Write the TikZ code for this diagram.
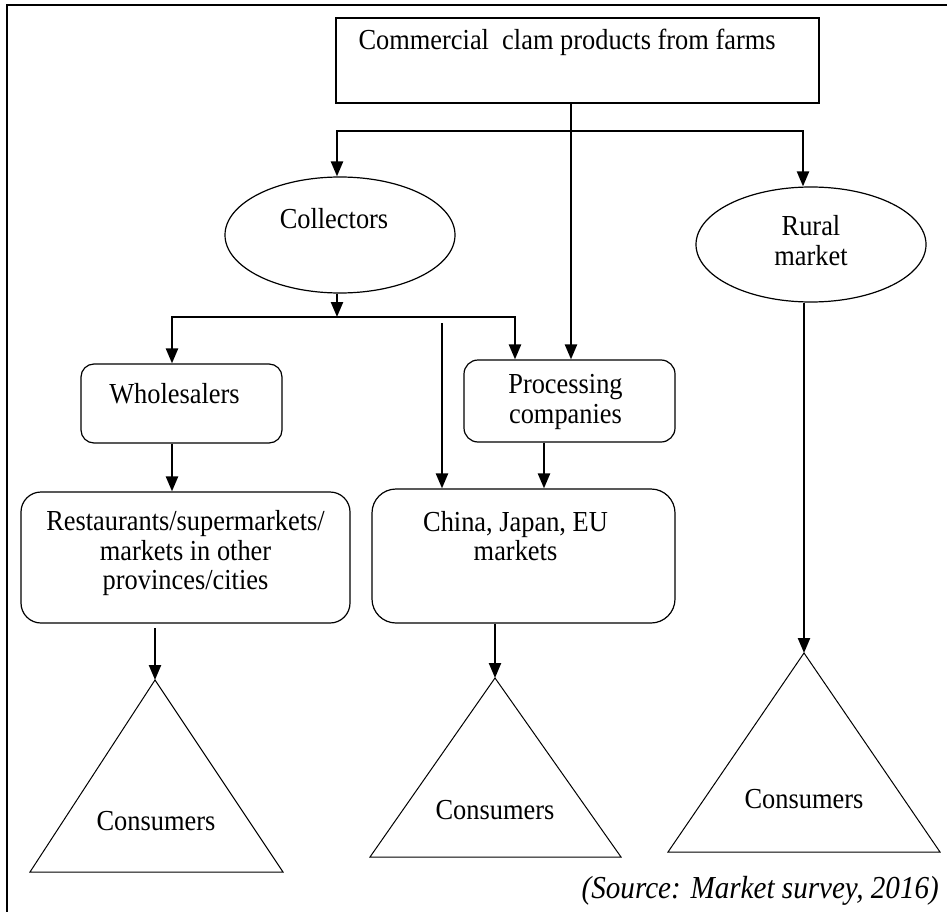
\documentclass[tikz,border=0pt]{standalone}
\usepackage{fontspec}
\setmainfont{Liberation Serif}[FakeStretch=0.91]
\usetikzlibrary{arrows.meta,shapes.geometric,calc}
\begin{document}
\begin{tikzpicture}[x=1pt,y=-1pt,
  every node/.style={font=\fontsize{29}{29.5}\selectfont},
  shape line/.style={draw, line width=1.2pt, inner sep=0pt},
  plainbox/.style={shape line, rectangle},
  roundbox/.style={shape line, rectangle, rounded corners=#1},
  oval/.style={shape line, ellipse},
  txt/.style={align=center, inner sep=0pt},
  link/.style={line width=2.3pt},
  arr/.style={link, -{Triangle[length=15pt,width=12pt]}},
  cone/.style={draw, line width=1pt, line join=miter},
  frameline/.style={line width=2.5pt}
]
\useasboundingbox (0,0) rectangle (947,912);

% frame
\draw[frameline] (7,912) -- (7,5) -- (947,5);

% boxes and ovals
\node[plainbox, minimum width=483pt, minimum height=85pt] (farm) at (577.5,60.5) {};
\node[anchor=west, inner sep=0pt] (farmtxt) at ($(farm.north west)+(23,25)$) {Commercial\ \ clam products from farms};

\node[oval, minimum width=230pt, minimum height=116pt,
      label={[txt, yshift=16pt, xshift=-6pt]center:Collectors}] (coll) at (340,235) {};
\node[oval, minimum width=230pt, minimum height=115pt,
      label={[txt, yshift=4pt]center:{Rural\\market}}] (rural) at (811,244.5) {};

\node[roundbox=13pt, minimum width=201pt, minimum height=79pt,
      label={[txt, yshift=10pt, xshift=-7pt]center:Wholesalers}] (whole) at (181.5,403.5) {};
\node[roundbox=14pt, minimum width=211pt, minimum height=82pt,
      label={[txt, yshift=-1pt, xshift=-4pt]center:{Processing\\companies}}] (proc) at (569.5,401) {};

\node[roundbox=20pt, minimum width=329pt, minimum height=131pt,
      label={[txt, yshift=4pt]center:{Restaurants/supermarkets/\\markets in other\\provinces/cities}}] (rest) at (185.5,557.5) {};
\node[roundbox=24pt, minimum width=303pt, minimum height=134pt,
      label={[txt, yshift=20pt, xshift=-8pt]center:{China, Japan, EU\\markets}}] (china) at (523.5,556) {};

% consumer triangles
\coordinate (t1) at (155,680);
\coordinate (t1l) at (30,872);
\coordinate (t1r) at (283,872);
\draw[cone] (t1) -- (t1r) -- (t1l) -- cycle;
\node (c1) at (156,821) {Consumers};

\coordinate (t2) at (495,678);
\coordinate (t2l) at (370,857);
\coordinate (t2r) at (621,857);
\draw[cone] (t2) -- (t2r) -- (t2l) -- cycle;
\node (c2) at (495,810) {Consumers};

\coordinate (t3) at (804,653);
\coordinate (t3l) at (668,852);
\coordinate (t3r) at (940,852);
\draw[cone] (t3) -- (t3r) -- (t3l) -- cycle;
\node (c3) at (804,799) {Consumers};

% distribution buses
\coordinate (busA) at (571,131);
\coordinate (busL) at (337,131);
\coordinate (busR) at (803,131);
\coordinate (busB) at (337,317);
\coordinate (busBL) at (172,317);
\coordinate (busBR) at (515,317);
\coordinate (direct) at (442,323);
\coordinate (pc) at (544,442);
\coordinate (r1) at (155,628);

% connectors
\draw[arr] (farm.south -| busA) -- (busA |- proc.north);
\draw[arr] (busA) -| (busL |- coll.north);
\draw[arr] (busA) -| (busR |- rural.north);
\draw[arr] (coll.south -| busB) -- (busB);
\draw[arr] (busB) -| (busBL |- whole.north);
\draw[arr] (busB) -| (busBR |- proc.north);
\draw[arr] (direct) -- (direct |- china.north);
\draw[arr] (whole.south -| busBL) -- (busBL |- rest.north);
\draw[arr] (proc.south -| pc) -- (pc |- china.north);
\draw[arr] (r1) -- (t1);
\draw[arr] (china.south -| t2) -- (t2);
\draw[arr] (rural.south -| t3) -- (t3);

% source note
\node[anchor=east, inner sep=0pt, font=\fontsize{32}{32}\selectfont\itshape] (src) at (939,891) {(Source: Market survey, 2016)};
\end{tikzpicture}
\end{document}
